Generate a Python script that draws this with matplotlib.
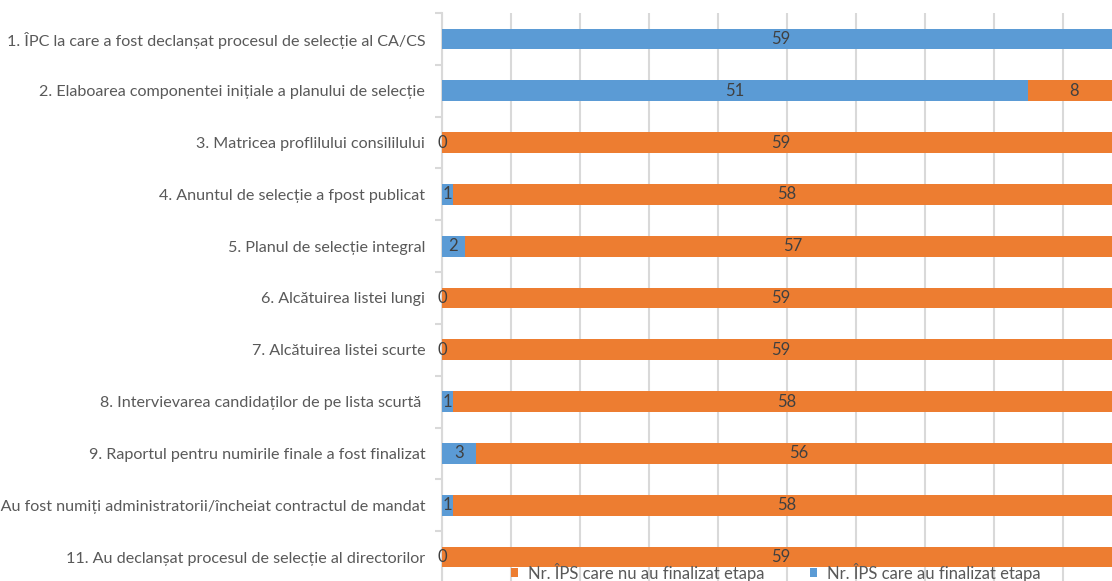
import numpy as np
import matplotlib.pyplot as plt

plt.rcParams['font.family'] = ['Lato', 'DejaVu Sans']

# Etapele procesului de selectie
categories = [
    "1. ÎPC la care a fost declanșat procesul de selecție al CA/CS",
    "2. Elaboarea componentei inițiale a planului de selecție",
    "3. Matricea proflilului consililului",
    "4. Anuntul de selecție a fpost publicat",
    "5. Planul de selecție integral",
    "6. Alcătuirea listei lungi",
    "7. Alcătuirea listei scurte",
    "8. Intervievarea candidaților de pe lista scurtă ",
    "9. Raportul pentru numirile finale a fost finalizat",
    "10. Au fost numiți administratorii/încheiat contractul de mandat",
    "11. Au declanșat procesul de selecție al directorilor",
]
finalizat = [59, 51, 0, 1, 2, 0, 0, 1, 3, 1, 0]
nefinalizat = [0, 8, 59, 58, 57, 59, 59, 58, 56, 58, 59]

blue = '#5B9BD5'
orange = '#ED7D31'
txt = '#595959'
lbl = '#404040'

fig = plt.figure(figsize=(11.12, 5.81), dpi=100)
ax = fig.add_axes([442 / 1112, 1 - 583 / 581, 1 - 442 / 1112, 570 / 581])

y = np.arange(len(categories))
b1 = ax.barh(y, finalizat, height=0.4, color=blue, zorder=3,
             label="Nr. ÎPS care au finalizat etapa")
b2 = ax.barh(y, nefinalizat, height=0.4, left=finalizat, color=orange, zorder=3,
             label="Nr. ÎPS care nu au finalizat etapa")

for i in range(len(categories)):
    ax.text(finalizat[i] / 2, i, str(finalizat[i]), ha='center', va='center',
            color=lbl, fontsize=12, zorder=5)
    if nefinalizat[i] > 0:
        ax.text(finalizat[i] + nefinalizat[i] / 2, i, str(nefinalizat[i]),
                ha='center', va='center', color=lbl, fontsize=12, zorder=5)

# the original chart is cropped on the right, just before 59
ax.set_xlim(0, 58.3)
ax.set_ylim(len(categories) - 0.5, -0.5)
ax.set_xticks(np.arange(0, 58, 6))
ax.xaxis.grid(True, color='#D9D9D9', linewidth=1.5, zorder=0)
ax.tick_params(axis='x', length=0, labelbottom=False)
ax.set_yticks(y)
ax.set_yticklabels(categories, color=txt, fontsize=11.6)
ax.set_yticks(np.arange(-0.5, len(categories), 1), minor=True)
ax.tick_params(axis='y', which='major', length=0, pad=12)
ax.tick_params(axis='y', which='minor', length=5, width=1.5, color='#D9D9D9')
for s in ['top', 'right', 'bottom']:
    ax.spines[s].set_visible(False)
ax.spines['left'].set_color('#D9D9D9')
ax.spines['left'].set_linewidth(1.5)

handles = [b2, b1]
leg = fig.legend(handles, [h.get_label() for h in handles], loc='center',
                 bbox_to_anchor=(776 / 1112, 1 - 572 / 581), ncol=2, frameon=False,
                 fontsize=12, handlelength=0.45, handleheight=0.45, handletextpad=0.6,
                 columnspacing=2.7, labelcolor=txt, borderpad=0)
leg.set_zorder(10)

fig.savefig('out.png', dpi=100)
